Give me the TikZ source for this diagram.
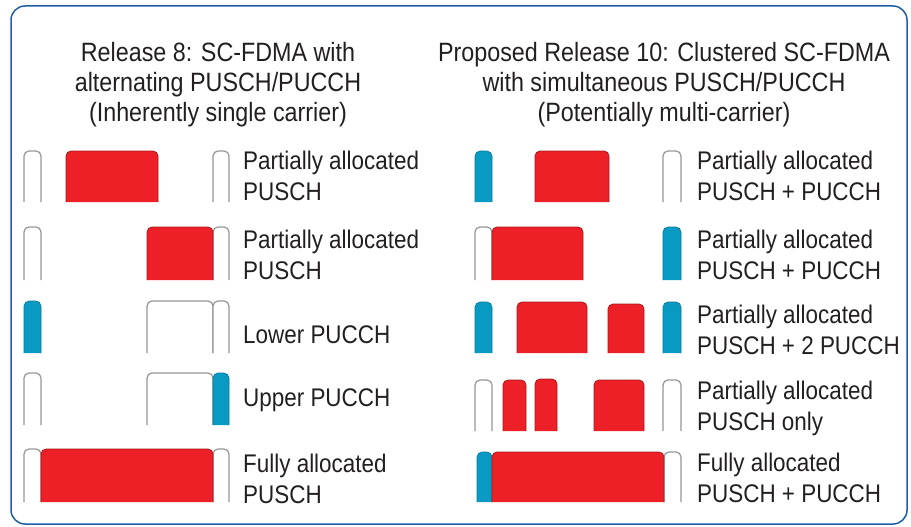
\documentclass[tikz,border=0pt]{standalone}
\usepackage{fontspec}
\setmainfont{Liberation Sans}[FakeStretch=0.88]

\definecolor{puschred}{RGB}{237,31,39}
\definecolor{puschedge}{RGB}{170,25,30}
\definecolor{pucchblue}{RGB}{8,154,194}
\definecolor{pucchedge}{RGB}{6,120,155}
\definecolor{idlegray}{RGB}{150,150,150}
\definecolor{framblue}{RGB}{30,95,165}
\definecolor{txtgray}{RGB}{35,31,32}

\tikzset{
  pusch/.style={fill=puschred, draw=puschedge, line width=0.8pt, rounded corners=5pt},
  pucch/.style={fill=pucchblue, draw=pucchedge, line width=0.6pt, rounded corners=5pt},
  idle/.style={fill=white, draw=idlegray, line width=1.2pt, rounded corners=5pt},
  lbl/.style={anchor=west, align=left, inner sep=0pt, text=txtgray,
    font=\fontsize{25.5}{31}\selectfont},
  hdr/.style={align=center, inner sep=0pt, text=txtgray,
    font=\fontsize{26.5}{30}\selectfont}
}

\begin{document}
\begin{tikzpicture}[x=1pt, y=-1pt]

% #1 style, #2 left, #3 right, #4 top, #5 bottom (bottom stays open)
\newcommand\Blk[5]{\filldraw[#1] (#2,#5) -- (#2,#4) -- (#3,#4) -- (#3,#5);}

\useasboundingbox (0,0) rectangle (911,527);
\draw[framblue, line width=1.5pt, rounded corners=14pt] (11,6) rectangle (907,524);

\node[hdr] (hdrA) at (218,85) {Release 8: SC-FDMA with\\alternating PUSCH/PUCCH\\(Inherently single carrier)};
\node[hdr] (hdrB) at (664,85) {Proposed Release 10: Clustered SC-FDMA\\with simultaneous PUSCH/PUCCH\\(Potentially multi-carrier)};

%% Release 8
\Blk{idle}{24}{41}{151}{202} \Blk{pusch}{66}{158}{151}{202} \Blk{idle}{213}{229}{151}{202} % row 1
\Blk{idle}{24}{41}{227}{280} \Blk{idle}{213}{229}{227}{280} \Blk{pusch}{147}{213}{227}{280} % row 2
\Blk{pucch}{24}{41}{301}{353} \Blk{idle}{147}{213}{301}{353} \Blk{idle}{213}{229}{301}{353} % row 3
\Blk{idle}{24}{41}{373}{425} \Blk{idle}{147}{213}{373}{425} \Blk{pucch}{213}{229}{373}{425} % row 4
\Blk{idle}{24}{41}{449}{502} \Blk{idle}{213}{229}{449}{502} \Blk{pusch}{41}{213}{449}{502} % row 5

\node[lbl] (lblA1) at (243,176) {Partially allocated\\PUSCH};
\node[lbl] (lblA2) at (243,255) {Partially allocated\\PUSCH};
\node[lbl] (lblA3) at (243,335) {Lower PUCCH};
\node[lbl] (lblA4) at (243,400) {Upper PUCCH};
\node[lbl] (lblA5) at (243,479) {Fully allocated\\PUSCH};

%% Release 10
\Blk{pucch}{475}{492}{151}{202} \Blk{pusch}{535}{609}{151}{202} \Blk{idle}{663}{681}{151}{202} % row 1
\Blk{idle}{475}{492}{227}{280} \Blk{pusch}{492}{583}{227}{280} \Blk{pucch}{663}{681}{227}{280} % row 2
\Blk{pucch}{475}{492}{302}{353} \Blk{pusch}{517}{587}{302}{353} \Blk{pusch}{608}{644}{304}{353} \Blk{pucch}{663}{681}{302}{353} % row 3
\Blk{idle}{475}{492}{380}{431} \Blk{pusch}{503}{526}{380}{431} \Blk{pusch}{535}{557}{379}{431} \Blk{pusch}{594}{644}{380}{431} \Blk{idle}{663}{681}{380}{431} % row 4
\Blk{pucch}{477}{492}{452}{502} \Blk{idle}{664}{681}{452}{502} \Blk{pusch}{492}{664}{452}{502} % row 5

\node[lbl] (lblB1) at (697,176) {Partially allocated\\PUSCH + PUCCH};
\node[lbl] (lblB2) at (697,255) {Partially allocated\\PUSCH + PUCCH};
\node[lbl] (lblB3) at (697,330) {Partially allocated\\PUSCH + 2 PUCCH};
\node[lbl] (lblB4) at (697,408) {Partially allocated\\PUSCH only};
\node[lbl] (lblB5) at (697,478) {Fully allocated\\PUSCH + PUCCH};

\end{tikzpicture}
\end{document}
